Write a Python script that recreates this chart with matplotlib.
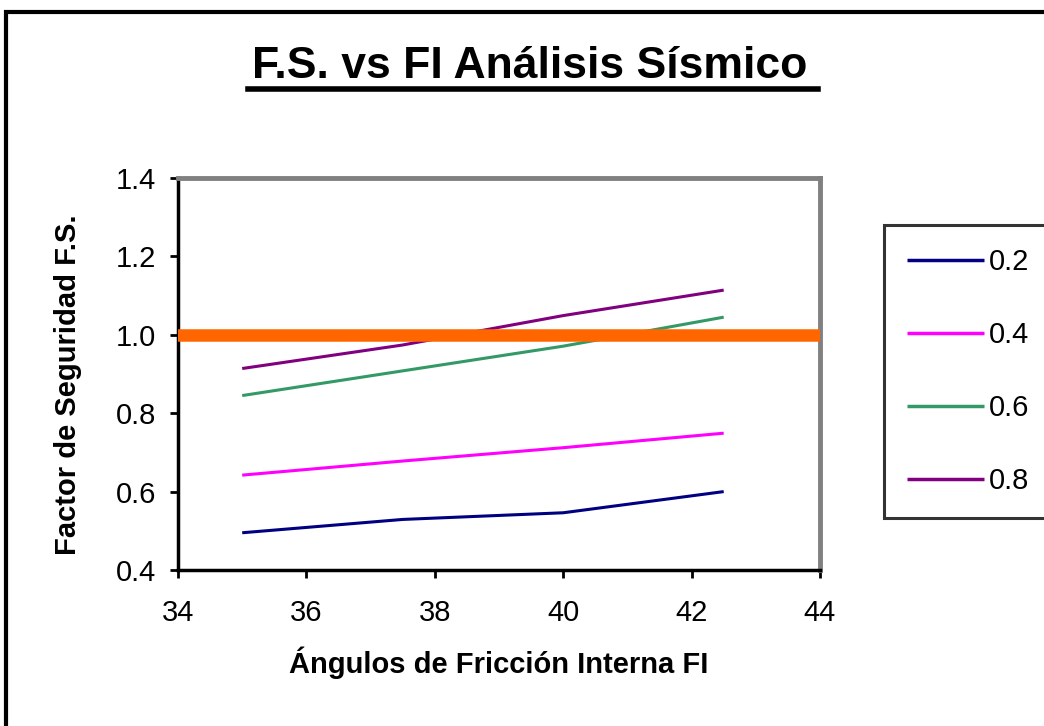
import matplotlib
matplotlib.use("Agg")
import matplotlib.pyplot as plt
from matplotlib.patches import Rectangle

plt.rcParams['font.family'] = ['Liberation Sans', 'DejaVu Sans']

# Data
friction_angles = [35, 37.5, 40, 42.5]
series_labels = ["0.2", "0.4", "0.6", "0.8"]
fs_02 = [0.495, 0.529, 0.546, 0.600]
fs_04 = [0.642, 0.678, 0.712, 0.749]
fs_06 = [0.845, 0.908, 0.971, 1.045]
fs_08 = [0.914, 0.974, 1.049, 1.114]
series_values = [fs_02, fs_04, fs_06, fs_08]
series_colors = ["#000080", "#FF00FF", "#339966", "#800080"]
reference_fs = 1.0
x_ticks = [34, 36, 38, 40, 42, 44]
y_ticks = [0.4, 0.6, 0.8, 1.0, 1.2, 1.4]

W, H = 1044, 726
fig = plt.figure(figsize=(W / 100, H / 100), dpi=100)
fig.patch.set_facecolor("white")

# outer chart border (cropped at right / bottom)
fig.patches.append(Rectangle((6 / W, -0.1), 1.2, 1 - 12 / H + 0.1,
                             transform=fig.transFigure, fill=False,
                             edgecolor="black", linewidth=3.0))

ax = fig.add_axes([178 / W, 1 - 570 / H, (820 - 178) / W, (570 - 178) / H])

for lbl, vals, col in zip(series_labels, series_values, series_colors):
    ax.plot(friction_angles, vals, color=col, linewidth=2.2, label=lbl,
            solid_capstyle="butt")

ax.axhline(reference_fs, color="#FF6600", linewidth=9, zorder=3)

ax.set_xlim(34, 44)
ax.set_ylim(0.4, 1.4)
ax.set_xticks(x_ticks)
ax.set_yticks(y_ticks)
ax.set_yticklabels([f"{v:.1f}" for v in y_ticks])
ax.tick_params(direction="out", length=6, width=2, labelsize=21,
               colors="black")
ax.tick_params(axis="x", pad=15)
ax.tick_params(axis="y", pad=10)

for s in ["top", "right"]:
    ax.spines[s].set_color("#808080")
    ax.spines[s].set_linewidth(3.5)
for s in ["left", "bottom"]:
    ax.spines[s].set_color("black")
    ax.spines[s].set_linewidth(2.5)

ax.set_xlabel("Ángulos de Fricción Interna FI", fontsize=21, fontweight="bold")
ax.set_ylabel("Factor de Seguridad F.S.", fontsize=21, fontweight="bold")
ax.xaxis.set_label_coords((499 - 178) / 642, (570 - 663) / 392)
ax.yaxis.set_label_coords((68 - 178) / 642, (570 - 385) / 392)
ax.xaxis.label.set_va("center")
ax.yaxis.label.set_va("center")

fig.text((244 + 816) / 2 / W, 1 - 66 / H, "F.S. vs FI Análisis Sísmico",
         ha="center", va="center", fontsize=32, fontweight="bold")
# underline of the title
fig.add_artist(plt.Line2D([248 / W, 818 / W], [1 - 89 / H, 1 - 89 / H],
                          transform=fig.transFigure, color="black",
                          linewidth=4))

leg = ax.legend(loc="upper left", bbox_to_anchor=(884 / W, 1 - 225 / H),
                bbox_transform=fig.transFigure, frameon=True, fancybox=False,
                fontsize=21, handlelength=2.65, handletextpad=0.15,
                labelspacing=1.54, borderpad=0.79, borderaxespad=0)
leg.get_frame().set_edgecolor("black")
leg.get_frame().set_linewidth(2.2)
for line in leg.get_lines():
    line.set_linewidth(2.5)

fig.savefig("out.png", dpi=100)
